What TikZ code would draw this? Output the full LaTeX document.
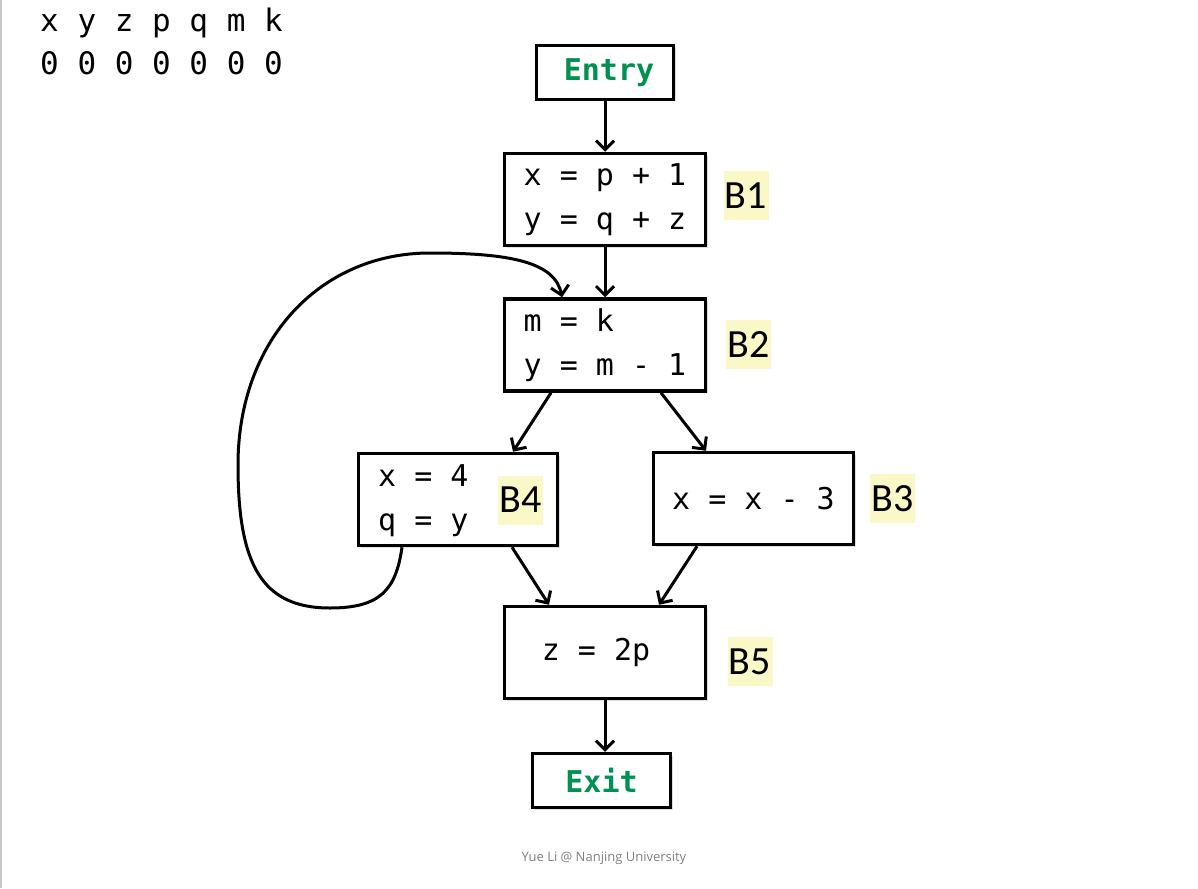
\documentclass[tikz,border=0pt]{standalone}
\usepackage{fontspec}
\newfontfamily\codefont{DejaVu Sans Mono}
\newfontfamily\labfont{Carlito}
\newfontfamily\footfont{Open Sans}
\usetikzlibrary{arrows.meta,calc,shadows}
\definecolor{entrygreen}{RGB}{0,145,80}
\definecolor{hl}{RGB}{251,248,200}
\begin{document}
\begin{tikzpicture}[x=1pt,y=-1pt,
  blk/.style={draw, line width=3.5pt, fill=white, inner sep=0pt,
    drop shadow={shadow xshift=2pt,shadow yshift=-2pt,opacity=0.25},
    font=\codefont\fontsize{30}{44}\selectfont, align=center},
  codetxt/.style={inner sep=0pt, font=\codefont\fontsize{30}{44}\selectfont, align=left},
  lab/.style={fill=hl, inner sep=0pt, minimum width=45pt, minimum height=49pt,
    font=\labfont\fontsize{40}{40}\selectfont},
  arr/.style={line width=3pt, -{Straight Barb[length=9pt,width=18pt]}}
]
\fill[white] (0,0) rectangle (1198,888);
\useasboundingbox (0,0) rectangle (1198,888);
\draw[black!22, line width=1.5pt] (0.75,0) -- (0.75,888);

% variable header
\node[anchor=base west, inner sep=0pt, font=\codefont\fontsize{31}{31}\selectfont] (vars) at (40,32) {x y z p q m k};
\node[anchor=base west, inner sep=0pt, font=\codefont\fontsize{31}{31}\selectfont] (vals) at (40,75) {0 0 0 0 0 0 0};

% blocks
\node[blk, minimum width=137pt, minimum height=54pt, text=entrygreen, font=\codefont\bfseries\fontsize{30}{30}\selectfont] (entry) at (605,72.5) {\hspace{8pt}Entry};
\node[blk, minimum width=201pt, minimum height=92pt] (b1) at (605,199.5) {x = p + 1\\y = q + z};
\node[blk, minimum width=201pt, minimum height=92pt, align=left] (b2) at (605,345) {m = k\\y = m - 1};
\node[blk, minimum width=199pt, minimum height=92pt] (b4) at (458,499.5) {};
\node[codetxt, anchor=west] (b4t) at (378,501) {x = 4\\q = y};
\node[blk, minimum width=200pt, minimum height=92pt] (b3) at (753.5,498.5) {x = x - 3};
\node[blk, minimum width=201pt, minimum height=92pt] (b5) at (605,652.5) {z = 2p\phantom{0}};
\node[blk, minimum width=138pt, minimum height=54pt, text=entrygreen, font=\codefont\bfseries\fontsize{30}{30}\selectfont] (exit) at (601.5,780.5) {Exit};

% labels
\node[lab] (lb1) at (746,195.5) {B1};
\node[lab] (lb2) at (748.5,344.5) {B2};
\node[lab] (lb4) at (520.5,500) {B4};
\node[lab] (lb3) at (892.5,498.5) {B3};
\node[lab] (lb5) at (750,661.5) {B5};

% edges
\draw[arr] (entry.south) -- (b1.north);
\draw[arr] (b1.south) -- (b2.north);
\draw[arr] ($(b2.south)+(-54,0)$) -- ($(b4.north)+(55,0)$);
\draw[arr] ($(b2.south)+(56,0)$) -- ($(b3.north)+(-47.5,0)$);
\draw[arr] ($(b4.south)+(54,0)$) -- ($(b5.north)+(-56,0)$);
\draw[arr] ($(b3.south)+(-56.5,0)$) -- ($(b5.north)+(54,0)$);
\draw[arr] (b5.south) -- (b5.south |- exit.north);

% back edge B4 -> B2
\coordinate (lpA) at (330,608);
\coordinate (lpB) at (238,465);
\coordinate (lpC) at (430,253);
\draw[arr] ($(b4.south)+(-56,0)$) .. controls (396,590) and (380,608) .. (lpA)
  .. controls (262,608) and (238,565) .. (lpB)
  .. controls (238,340) and (320,253) .. (lpC)
  .. controls (510,253) and (555,262) .. ($(b2.north)+(-43,0)$);

% footer
\node[font=\footfont\fontsize{13}{13}\selectfont, text=black!50] (foot) at (604,858) {Yue Li @ Nanjing University};
\end{tikzpicture}
\end{document}
